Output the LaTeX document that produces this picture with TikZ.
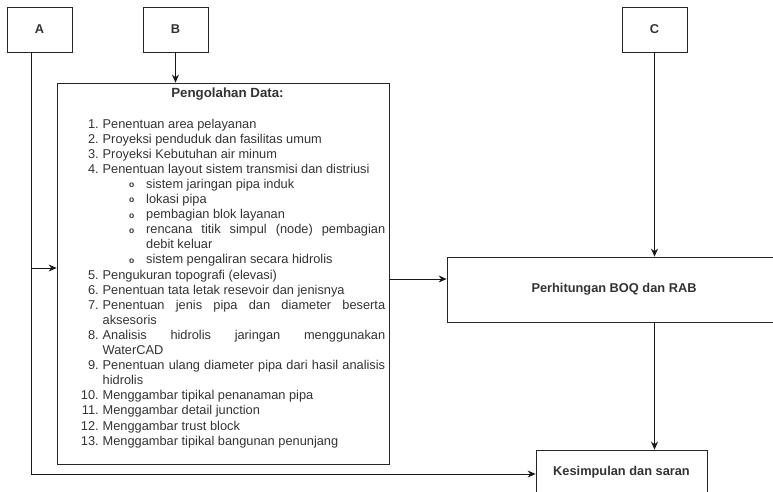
\documentclass[tikz,border=0pt]{standalone}
\usepackage{fontspec}
\setmainfont{Liberation Sans}
\usepackage{enumitem}
\usetikzlibrary{arrows.meta}

\newcommand{\bulet}{\raisebox{0.6pt}{\fontsize{8.5}{8.5}\selectfont\bfseries o}}

\tikzset{
    kotak/.style={draw=black!85, line width=0.8pt, inner sep=0pt, text=black!80,
        font=\bfseries\fontsize{12.8}{15}\selectfont},
    judul/.style={inner sep=0pt, text=black!80, font=\bfseries\fontsize{13.3}{15}\selectfont},
    daftar/.style={inner sep=0pt, text=black!80, text width=303pt, align=justify,
        font=\fontsize{12.8}{15.1}\selectfont},
    panah/.style={draw=black!90, line width=0.8pt, -{Stealth[length=8pt,width=7pt]}}
}

\begin{document}
\begin{tikzpicture}[x=1pt,y=-1pt]
        \useasboundingbox (0,0) rectangle (773,491);

        % Kotak masukan
        \node[kotak, minimum width=65pt, minimum height=45pt] (A) at (39.5,29.5) {A};
        \node[kotak, minimum width=65pt, minimum height=45pt] (B) at (175.5,29.5) {B};
        \node[kotak, minimum width=65pt, minimum height=45pt] (C) at (654.5,29.5) {C};

        % Kotak pengolahan data
        \node[kotak, minimum width=332pt, minimum height=381pt] (olah) at (223,273.5) {};
        \node[judul, anchor=base] (judul) at (227.5,97.7) {Pengolahan Data:};
        \node[daftar, anchor=north west] (daftar) at (82,112.7) {%
            \begin{enumerate}[nosep, leftmargin=20.5pt, labelwidth=16.5pt, labelsep=4pt]
                \item Penentuan area pelayanan
                \item Proyeksi penduduk dan fasilitas umum
                \item Proyeksi Kebutuhan air minum
                \item Penentuan layout sistem transmisi dan distriusi
                \begin{itemize}[nosep, leftmargin=43.5pt, labelsep=12pt, label=\bulet]
                    \item sistem jaringan pipa induk
                    \item lokasi pipa
                    \item pembagian blok layanan
                    \item rencana titik simpul (node) pembagian\linebreak debit keluar
                    \item sistem pengaliran secara hidrolis
                \end{itemize}
                \item Pengukuran topografi (elevasi)
                \item Penentuan tata letak resevoir dan jenisnya
                \item Penentuan jenis pipa dan diameter beserta\linebreak aksesoris
                \item Analisis hidrolis jaringan menggunakan\linebreak WaterCAD
                \item Penentuan ulang diameter pipa dari hasil analisis\linebreak hidrolis
                \item Menggambar tipikal penanaman pipa
                \item Menggambar detail junction
                \item Menggambar trust block
                \item Menggambar tipikal bangunan penunjang
            \end{enumerate}};

        % Kotak hasil
        \node[kotak, minimum width=334pt, minimum height=65pt] (boq) at (614,289.5) {Perhitungan BOQ dan RAB};
        \node[kotak, minimum width=171pt, minimum height=44pt] (kes) at (621.5,472) {Kesimpulan dan saran};

        % titik bantu garis dari A
        \coordinate (a0) at ([xshift=-8.5pt]A.south);
        \coordinate (cabang) at ([yshift=5.5pt]olah.west);
        \coordinate (akhir) at ([yshift=-2pt]kes.west);
        \coordinate (keluar) at ([yshift=-5.5pt]olah.east);

        % panah-panah
        \draw[panah] (a0) |- (akhir);
        \draw[panah] (a0 |- cabang) -- (cabang);
        \draw[panah] (B) -- (B |- olah.north);
        \draw[panah] (C) -- (C |- boq.north);
        \draw[panah] (C |- boq.south) -- (C |- kes.north);
        \draw[panah] (keluar) -- (keluar -| boq.west);

    \end{tikzpicture}
\end{document}
